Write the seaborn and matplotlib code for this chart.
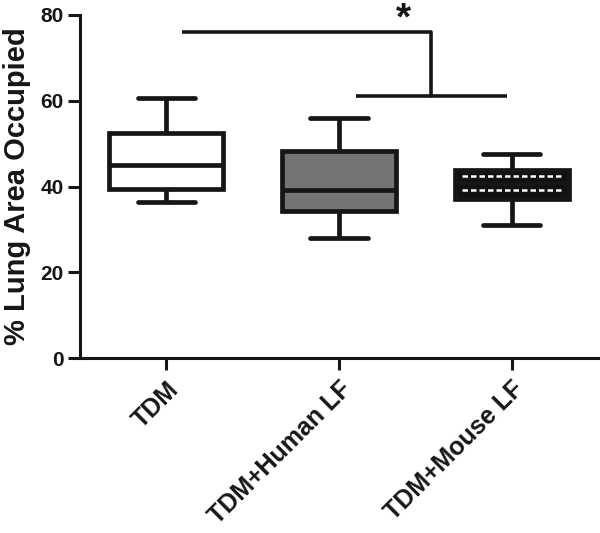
import matplotlib
matplotlib.use("Agg")
from matplotlib import pyplot as plt
import seaborn as sns
import pandas as pd

groups = ["TDM", "TDM+Human LF", "TDM+Mouse LF"]
# five-number summaries: min, q1, median, q3, max
tdm = [36.3, 39.5, 45.1, 52.5, 60.6]
human_lf = [27.9, 34.3, 39.1, 48.4, 55.9]
mouse_lf = [31.0, 37.1, 40.8, 43.8, 47.5]
fills = ["white", "#747474", "#111111"]
y_ticks = [0, 20, 40, 60, 80]
y_label = "% Lung Area Occupied"

# significance bracket (TDM vs the two LF groups)
top_bar_x = [0.09, 1.53]
top_bar_y = 76.0
low_bar_x = [1.10, 1.97]
low_bar_y = 61.0
star_pos = (1.375, 79.0)

ink = "#161616"


def box_plot(ax, frame):
    sns.boxplot(data=frame, x="group", y="value", hue="group", palette=fills,
                whis=(0, 100), width=0.66, linewidth=3.4, linecolor=ink,
                showfliers=False, legend=False, ax=ax)
    return ax


def checker_box(ax, patch):
    # black box with two rows of white dashes, like the original pattern
    ext = patch.get_path().get_extents()
    x0, x1 = ext.x0, ext.x1
    h = ext.y1 - ext.y0
    pad = (x1 - x0) * 0.06
    for frac in (0.33, 0.79):
        ax.plot([x0 + pad, x1 - pad], [ext.y0 + h * frac] * 2, color="white",
                lw=1.8, ls=(0, (2.2, 1.2)), zorder=patch.get_zorder() + 0.1,
                solid_capstyle="butt")


values = tdm + human_lf + mouse_lf
labels = [g for g in groups for _ in range(5)]
df = pd.DataFrame({"group": labels, "value": values})

sns.set_style("ticks")
plt.rcParams["font.family"] = ["Liberation Sans", "DejaVu Sans"]
plt.rcParams["font.weight"] = "bold"

fig = plt.figure(figsize=(6, 5.33), dpi=100)
ax = fig.add_axes([0.133, 0.328, 0.864, 0.644])
box_plot(ax, df)

boxes = sorted(ax.patches, key=lambda p: p.get_path().get_extents().x0)
checker_box(ax, boxes[-1])

ax.set_ylim(0, 80)
ax.set_xlim(-0.5, 2.5)
ax.set_yticks(y_ticks)
ax.set_xlabel("")
ax.set_ylabel(y_label, fontsize=21, fontweight="bold", labelpad=7, color=ink)
ax.set_xticks(range(len(groups)))
ax.set_xticklabels(groups, rotation=45, ha="right", rotation_mode="anchor",
                   fontsize=18, fontweight="bold", color=ink)
ax.tick_params(axis="both", width=2.2, length=8.5, direction="out", color=ink,
               pad=5)
ax.tick_params(axis="y", labelsize=15, labelcolor=ink, pad=3)
for t in ax.get_yticklabels():
    t.set_fontweight("bold")
sns.despine(ax=ax)
for s in ("left", "bottom"):
    ax.spines[s].set_linewidth(2.2)
    ax.spines[s].set_color(ink)

# bracket
ax.plot(top_bar_x, [top_bar_y] * 2, color=ink, lw=2.6, clip_on=False,
        solid_capstyle="butt")
ax.plot([top_bar_x[1]] * 2, [top_bar_y, low_bar_y], color=ink, lw=2.6,
        clip_on=False)
ax.plot(low_bar_x, [low_bar_y] * 2, color=ink, lw=2.6, clip_on=False,
        solid_capstyle="butt")
ax.text(star_pos[0], star_pos[1], "*", ha="center", va="center", fontsize=28,
        fontweight="bold", color=ink, clip_on=False)

fig.savefig("out.png", dpi=100)
